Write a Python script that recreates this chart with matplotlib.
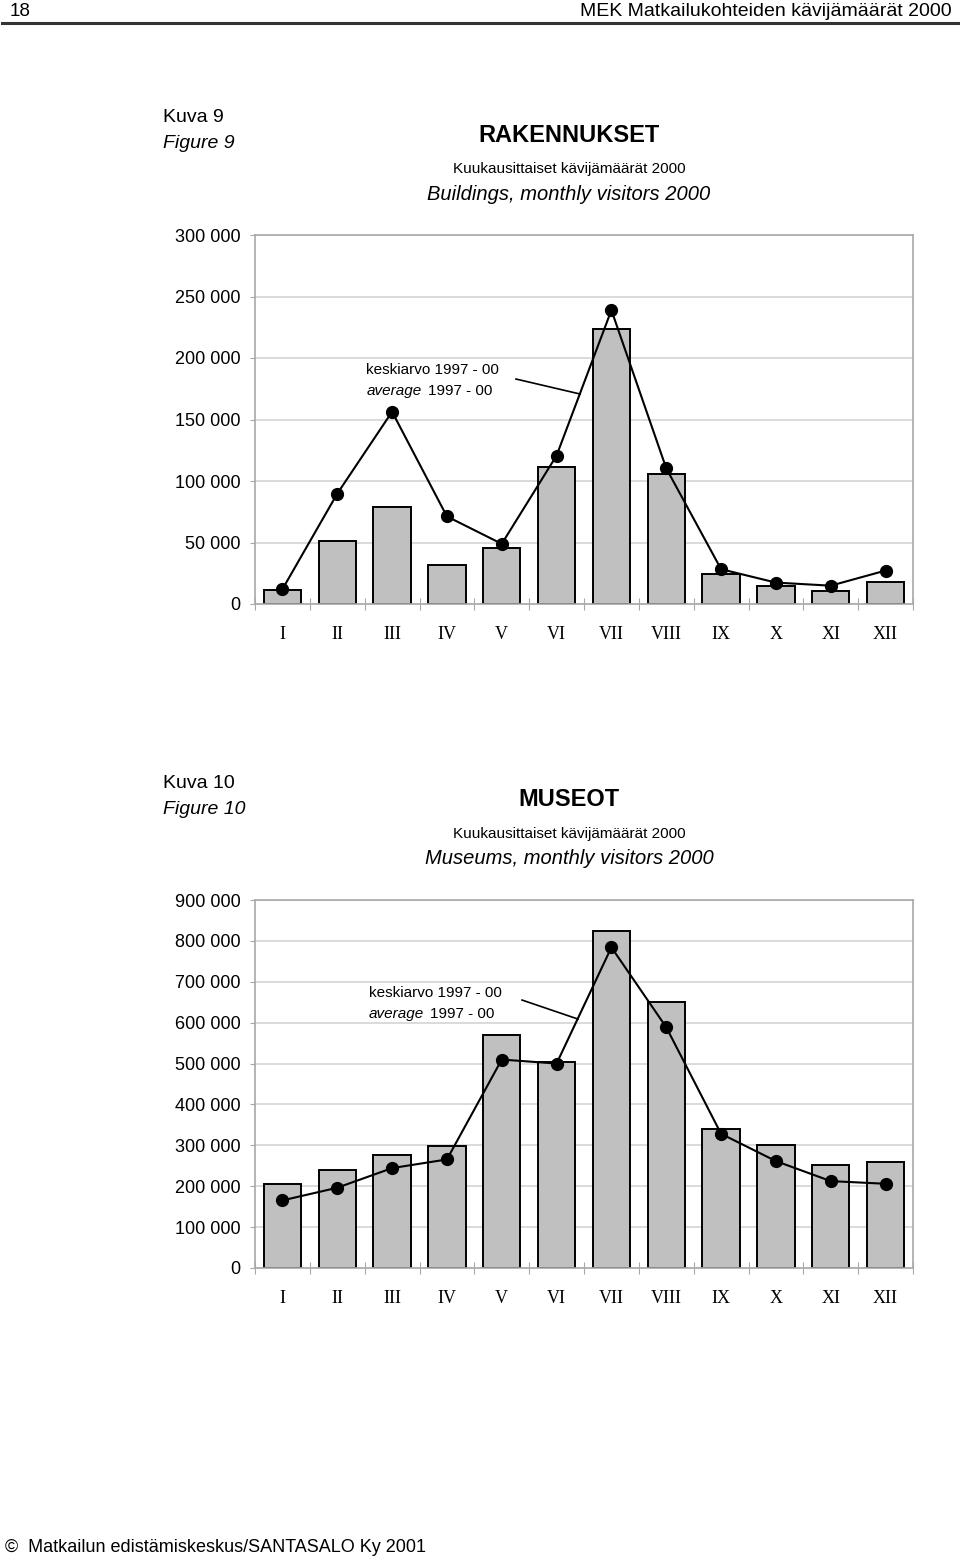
import numpy as np
import matplotlib.pyplot as plt
from matplotlib.ticker import FuncFormatter, FixedLocator

plt.rcParams['font.family'] = ['Liberation Sans', 'DejaVu Sans']

# Kuukaudet
kuukaudet = ['I', 'II', 'III', 'IV', 'V', 'VI', 'VII', 'VIII', 'IX', 'X', 'XI', 'XII']

# Kuva 9 - Rakennukset
rakennukset_2000 = [11500, 51400, 78500, 31800, 45900, 111100, 223900, 106000, 24200, 14700, 10900, 17900]
rakennukset_ka = [12000, 89700, 156300, 71200, 48900, 120700, 238900, 110300, 28300, 17400, 14900, 27200]

# Kuva 10 - Museot
museot_2000 = [206000, 240200, 275200, 297200, 569200, 503300, 823300, 649800, 340400, 300500, 252400, 259000]
museot_ka = [165300, 196300, 244300, 265500, 509800, 500000, 784200, 588800, 328200, 261400, 212500, 206000]

harmaa = '#c0c0c0'
ruudukko = '#d4d4d4'


def tuhannet(v, pos):
    return f'{int(v):,}'.replace(',', ' ')


def piirra(ax, palkit, viiva, ymax, askel, teksti_xy, nuoli):
    x = np.arange(len(kuukaudet))
    ax.bar(x, palkit, width=0.68, color=harmaa, edgecolor='black', linewidth=1.4, zorder=2)
    ax.plot(x, viiva, color='black', linewidth=1.5, marker='o', markersize=8.5, zorder=3)
    ax.set_xlim(-0.5, len(kuukaudet) - 0.5)
    ax.set_ylim(0, ymax)
    ax.set_yticks(np.arange(0, ymax + 1, askel))
    ax.yaxis.set_major_formatter(FuncFormatter(tuhannet))
    ax.yaxis.grid(True, color=ruudukko, linewidth=1.2, zorder=0)
    ax.set_axisbelow(True)
    # tick marks at category boundaries, labels at centres
    ax.xaxis.set_major_locator(FixedLocator(np.arange(-0.5, len(kuukaudet))))
    ax.xaxis.set_minor_locator(FixedLocator(x))
    ax.set_xticklabels([])
    ax.set_xticklabels(kuukaudet, minor=True, family=['Liberation Serif'], fontsize=13)
    ax.tick_params(axis='x', which='major', direction='inout', length=8, color='#a8a8a8')
    ax.tick_params(axis='x', which='minor', length=0, pad=16)
    ax.tick_params(axis='y', length=3.6, color='#a8a8a8', labelsize=13, pad=7)
    for s in ax.spines.values():
        s.set_color('#a8a8a8')
        s.set_linewidth(1.2)
    ax.text(teksti_xy[0], teksti_xy[1], 'keskiarvo 1997 - 00', fontsize=11, va='center')
    ax.text(teksti_xy[0], teksti_xy[2], 'average', fontsize=11, style='italic', va='center')
    ax.text(teksti_xy[0] + 1.12, teksti_xy[2], '1997 - 00', fontsize=11, va='center')
    ax.plot(nuoli[0], nuoli[1], color='black', linewidth=1.2, zorder=4)


fig = plt.figure(figsize=(9.6, 15.58), dpi=100)

# Otsikkorivi
fig.text(10 / 960, 1 - 11 / 1558, '18', fontsize=13.5, va='center', ha='left')
fig.text(952 / 960, 1 - 11 / 1558, 'MEK Matkailukohteiden kävijämäärät 2000', fontsize=14, va='center', ha='right')
fig.add_artist(plt.Line2D([2 / 960, 958 / 960], [1 - 23 / 1558, 1 - 23 / 1558], color='#333333', linewidth=2.2))

# Kuva 9
fig.text(163 / 960, 1 - 118 / 1558, 'Kuva 9', fontsize=14, va='center')
fig.text(163 / 960, 1 - 144 / 1558, 'Figure 9', fontsize=14, style='italic', va='center')
fig.text(569 / 960, 1 - 135 / 1558, 'RAKENNUKSET', fontsize=17, weight='bold', ha='center', va='center')
fig.text(569 / 960, 1 - 169 / 1558, 'Kuukausittaiset kävijämäärät 2000', fontsize=11, ha='center', va='center')
fig.text(569 / 960, 1 - 194 / 1558, 'Buildings, monthly visitors 2000', fontsize=14.5, style='italic', ha='center', va='center')

ax1 = fig.add_axes([255 / 960, 1 - 604 / 1558, 658 / 960, 369 / 1558])
piirra(ax1, rakennukset_2000, rakennukset_ka, 300000, 50000,
       (1.53, 190200, 173200), ([4.26, 5.43], [182900, 170700]))

# Kuva 10
fig.text(163 / 960, 1 - 783 / 1558, 'Kuva 10', fontsize=14, va='center')
fig.text(163 / 960, 1 - 809 / 1558, 'Figure 10', fontsize=14, style='italic', va='center')
fig.text(569 / 960, 1 - 800 / 1558, 'MUSEOT', fontsize=17, weight='bold', ha='center', va='center')
fig.text(569 / 960, 1 - 834 / 1558, 'Kuukausittaiset kävijämäärät 2000', fontsize=11, ha='center', va='center')
fig.text(569 / 960, 1 - 859 / 1558, 'Museums, monthly visitors 2000', fontsize=14.5, style='italic', ha='center', va='center')

ax2 = fig.add_axes([255 / 960, 1 - 1268 / 1558, 658 / 960, 368 / 1558])
piirra(ax2, museot_2000, museot_ka, 900000, 100000,
       (1.58, 672400, 621000), ([4.37, 5.39], [655300, 608800]))

# Alatunniste
fig.text(5 / 960, 1 - 1547 / 1558, '©  Matkailun edistämiskeskus/SANTASALO Ky 2001', fontsize=13, va='center')

fig.savefig('out.png', dpi=100)
